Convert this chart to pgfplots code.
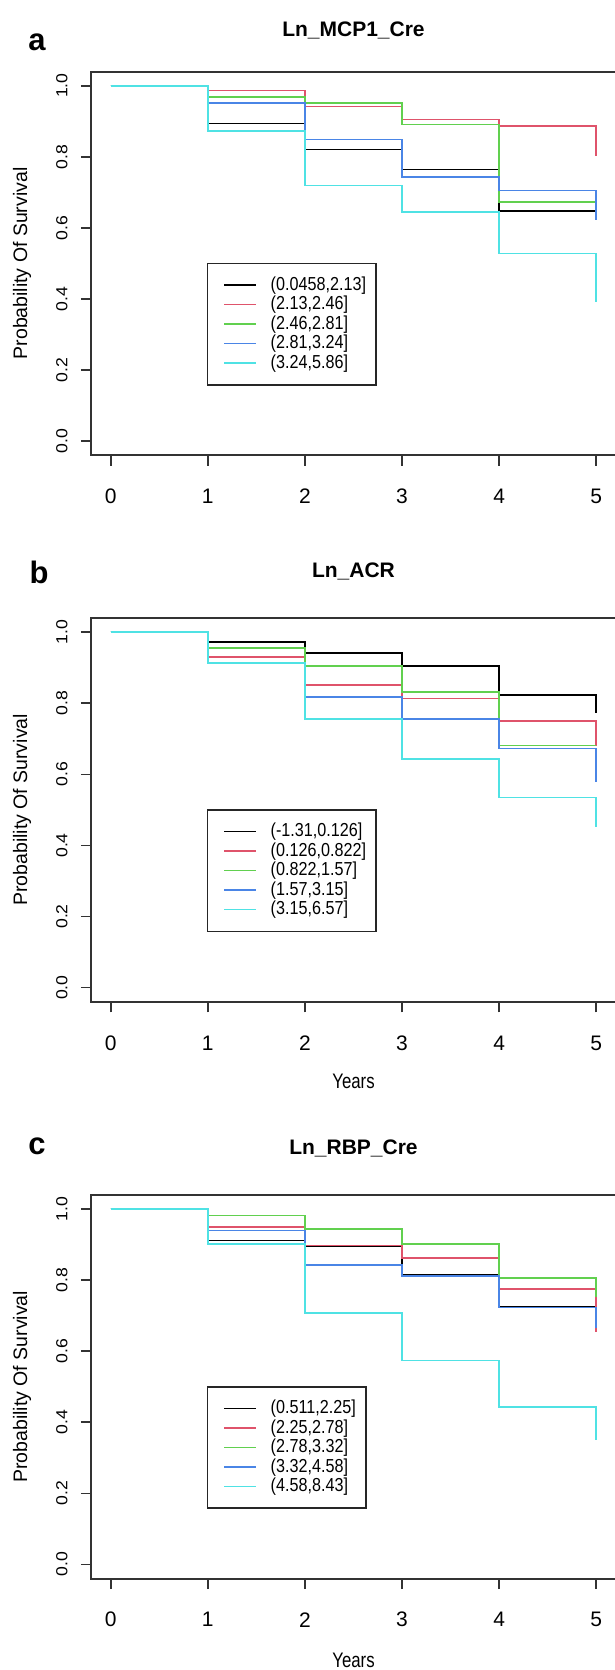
\documentclass[border=0pt]{standalone}
\usepackage{fontspec}
\setmainfont{Liberation Sans}
\newfontfamily\yearsfont{Liberation Sans}[FakeStretch=0.8]
\newfontfamily\ytickfont{Liberation Sans}[FakeStretch=1.1]
\newfontfamily\legfont{Liberation Sans}[FakeStretch=0.86]
\usepackage{pgfplots}
\pgfplotsset{compat=1.18}
\definecolor{kmblack}{HTML}{000000}
\definecolor{kmred}{HTML}{DF536B}
\definecolor{kmgreen}{HTML}{61D04F}
\definecolor{kmblue}{HTML}{4A85E6}
\definecolor{kmcyan}{HTML}{4FE2E4}
\definecolor{boxgray}{HTML}{333333}
\pgfplotsset{
  kmaxis/.style={
    scale only axis, width=262.2pt, height=191.9pt, clip=false,
    xmin=-0.2, xmax=5.2, ymin=-0.04, ymax=1.04,
    xtick={0,1,2,3,4,5}, xticklabels={0,1,2,3,4,5},
    ytick={0,0.2,0.4,0.6,0.8,1}, yticklabels={0.0,0.2,0.4,0.6,0.8,1.0},
    tick align=outside, major tick length=5.25pt, tick pos=left,
    axis line style={draw=boxgray, line width=1pt},
    every tick/.style={draw=boxgray, line width=0.8pt},
    xticklabel style={anchor=center, yshift=-15.3pt, font=\fontsize{10.5}{12}\selectfont},
    yticklabel style={xshift=-9.5pt, rotate=90, anchor=center, font=\ytickfont\fontsize{8}{9}\selectfont},
    ylabel={Probability Of Survival},
    ylabel style={at={(axis description cs:-0.132,0.5)}, rotate=0, anchor=center, font=\fontsize{9.75}{11}\selectfont},
    title style={at={(axis description cs:0.5,1.073)}, anchor=base, font=\bfseries\fontsize{10.5}{12}\selectfont},
    legend cell align=left,
    legend style={at={(axis description cs:0.2201,0.502)}, anchor=north west, draw=black!85, line width=0.8pt,
      fill=white, inner xsep=5pt, inner ysep=6pt, row sep=0pt,
      font=\legfont\fontsize{9.4}{9.75}\selectfont,
      nodes={inner sep=0pt, text height=7.4pt, text depth=2.35pt, anchor=west}},
    legend image code/.code={\path (0pt,0pt) (25.8pt,0pt); \draw[#1, line width=0.75pt] (3pt,0pt) -- (18.65pt,0pt);},
    every axis plot/.append style={const plot, line width=0.8pt, mark=none},
  }
}
\begin{document}
\begin{tikzpicture}
\path[use as bounding box] (0pt,0pt) rectangle (307.5pt,-835pt);
% ---------- panel a ----------
\begin{axis}[kmaxis, at={(45.65pt,-35.75pt)}, anchor=north west, title={Ln\_MCP1\_Cre},
  title style={yshift=-2.5pt}]
\addplot[kmblack] coordinates {(0,1)(1,0.894)(2,0.821)(3,0.764)(4,0.648)(5,0.648)};
\addplot[kmred] coordinates {(0,1)(1,0.986)(2,0.941)(3,0.905)(4,0.887)(5,0.803)};
\addplot[kmgreen] coordinates {(0,1)(1,0.969)(2,0.952)(3,0.891)(4,0.673)(5,0.673)};
\addplot[kmblue] coordinates {(0,1)(1,0.951)(2,0.849)(3,0.743)(4,0.705)(5,0.621)};
\addplot[kmcyan] coordinates {(0,1)(1,0.873)(2,0.719)(3,0.644)(4,0.528)(5,0.390)};
\legend{{(0.0458,2.13]},{(2.13,2.46]},{(2.46,2.81]},{(2.81,3.24]},{(3.24,5.86]}}
\node[anchor=base, font=\bfseries\fontsize{15.5}{18}\selectfont] at (axis description cs:-0.1036,1.055) {a};
\end{axis}
% ---------- panel b ----------
\begin{axis}[kmaxis, at={(45.65pt,-309pt)}, anchor=north west, title={Ln\_ACR},
  xlabel={Years}, xlabel style={at={(axis description cs:0.5,-0.2085)}, anchor=center, font=\yearsfont\fontsize{10.5}{12}\selectfont}]
\addplot[kmblack] coordinates {(0,1)(1,0.973)(2,0.941)(3,0.905)(4,0.824)(5,0.772)};
\addplot[kmred] coordinates {(0,1)(1,0.930)(2,0.852)(3,0.814)(4,0.750)(5,0.680)};
\addplot[kmgreen] coordinates {(0,1)(1,0.956)(2,0.905)(3,0.831)(4,0.681)(5,0.681)};
\addplot[kmblue] coordinates {(0,1)(1,0.913)(2,0.818)(3,0.756)(4,0.673)(5,0.579)};
\addplot[kmcyan] coordinates {(0,1)(1,0.913)(2,0.756)(3,0.644)(4,0.535)(5,0.452)};
\legend{{(-1.31,0.126]},{(0.126,0.822]},{(0.822,1.57]},{(1.57,3.15]},{(3.15,6.57]}}
\node[anchor=base, font=\bfseries\fontsize{15.5}{18}\selectfont] at (axis description cs:-0.0997,1.0897) {b};
\end{axis}
% ---------- panel c ----------
\begin{axis}[kmaxis, at={(45.65pt,-597.4pt)}, anchor=north west, title={Ln\_RBP\_Cre},
  xlabel={Years}, xlabel style={at={(axis description cs:0.5,-0.212)}, anchor=center, font=\yearsfont\fontsize{10.5}{12}\selectfont}]
\addplot[kmblack] coordinates {(0,1)(1,0.912)(2,0.895)(3,0.814)(4,0.726)(5,0.726)};
\addplot[kmred] coordinates {(0,1)(1,0.950)(2,0.897)(3,0.863)(4,0.775)(5,0.653)};
\addplot[kmgreen] coordinates {(0,1)(1,0.982)(2,0.944)(3,0.901)(4,0.806)(5,0.752)};
\addplot[kmblue] coordinates {(0,1)(1,0.940)(2,0.842)(3,0.811)(4,0.723)(5,0.665)};
\addplot[kmcyan] coordinates {(0,1)(1,0.902)(2,0.707)(3,0.574)(4,0.443)(5,0.350)};
\legend{{(0.511,2.25]},{(2.25,2.78]},{(2.78,3.32]},{(3.32,4.58]},{(4.58,8.43]}}
\node[anchor=base, font=\bfseries\fontsize{15.5}{18}\selectfont] at (axis description cs:-0.1036,1.105) {c};
\end{axis}
\end{tikzpicture}
\end{document}
